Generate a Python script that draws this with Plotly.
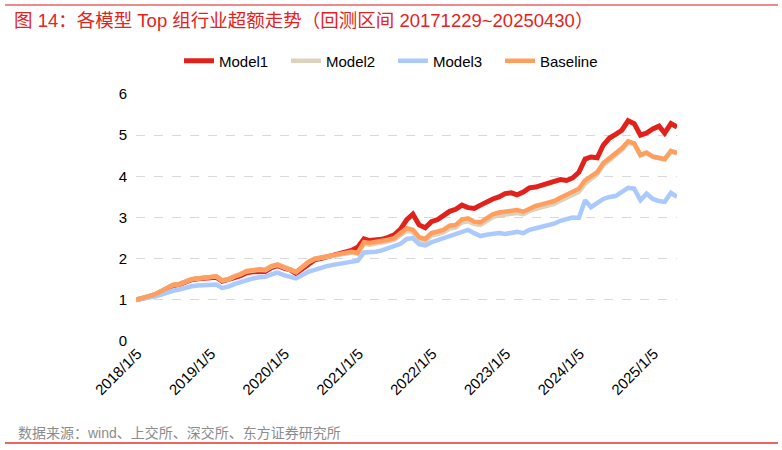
import pandas as pd
import plotly.graph_objects as go

# x: month-end dates from start of backtest
dates = [pd.Timestamp("2017-12-29")] + list(pd.date_range("2018-01-31", "2025-04-30", freq="ME"))

model1 = [1.00, 1.03, 1.07, 1.12, 1.19, 1.27, 1.35, 1.37, 1.44, 1.49, 1.51, 1.52,
          1.53, 1.55, 1.45, 1.48, 1.54, 1.59, 1.66, 1.68, 1.70, 1.69, 1.78, 1.83,
          1.77, 1.73, 1.64, 1.76, 1.88, 1.97, 2.00, 2.04, 2.08, 2.12, 2.16, 2.20,
          2.28, 2.48, 2.44, 2.45, 2.47, 2.52, 2.58, 2.72, 2.95, 3.08, 2.82, 2.75,
          2.90, 2.95, 3.05, 3.15, 3.20, 3.30, 3.24, 3.22, 3.30, 3.38, 3.45, 3.50,
          3.58, 3.60, 3.55, 3.62, 3.72, 3.74, 3.78, 3.82, 3.85, 3.92, 3.90, 3.96,
          4.10, 4.42, 4.47, 4.45, 4.76, 4.93, 5.02, 5.12, 5.35, 5.28, 5.00, 5.05,
          5.15, 5.22, 5.05, 5.28, 5.20]

model2 = [1.00, 1.04, 1.08, 1.13, 1.20, 1.28, 1.36, 1.38, 1.45, 1.50, 1.52, 1.53,
          1.55, 1.57, 1.47, 1.50, 1.57, 1.62, 1.69, 1.71, 1.73, 1.72, 1.81, 1.85,
          1.79, 1.75, 1.67, 1.79, 1.91, 1.99, 2.02, 2.05, 2.08, 2.11, 2.14, 2.15,
          2.12, 2.36, 2.34, 2.36, 2.38, 2.42, 2.46, 2.57, 2.68, 2.64, 2.46, 2.42,
          2.56, 2.60, 2.64, 2.73, 2.76, 2.88, 2.91, 2.84, 2.82, 2.91, 3.01, 3.05,
          3.07, 3.08, 3.11, 3.08, 3.16, 3.21, 3.25, 3.28, 3.33, 3.41, 3.48, 3.55,
          3.62, 3.82, 3.93, 4.05, 4.27, 4.40, 4.50, 4.64, 4.82, 4.78, 4.50, 4.56,
          4.47, 4.44, 4.41, 4.60, 4.56]

model3 = [1.00, 1.02, 1.05, 1.08, 1.12, 1.18, 1.22, 1.25, 1.30, 1.33, 1.35, 1.36,
          1.38, 1.37, 1.29, 1.32, 1.38, 1.43, 1.48, 1.52, 1.55, 1.56, 1.62, 1.66,
          1.60, 1.57, 1.52, 1.60, 1.68, 1.73, 1.78, 1.82, 1.85, 1.87, 1.90, 1.92,
          1.95, 2.15, 2.15, 2.17, 2.20, 2.25, 2.30, 2.36, 2.48, 2.50, 2.35, 2.32,
          2.40, 2.45, 2.50, 2.53, 2.58, 2.65, 2.70, 2.62, 2.55, 2.58, 2.60, 2.62,
          2.60, 2.62, 2.65, 2.62, 2.70, 2.74, 2.77, 2.80, 2.85, 2.92, 2.96, 3.00,
          2.99, 3.42, 3.25, 3.35, 3.45, 3.50, 3.52, 3.62, 3.72, 3.70, 3.42, 3.58,
          3.45, 3.40, 3.38, 3.60, 3.50]

baseline = [1.00, 1.04, 1.08, 1.13, 1.20, 1.28, 1.36, 1.38, 1.45, 1.50, 1.52, 1.53,
            1.55, 1.57, 1.47, 1.50, 1.57, 1.62, 1.70, 1.72, 1.74, 1.73, 1.82, 1.86,
            1.80, 1.76, 1.68, 1.80, 1.92, 2.00, 2.03, 2.07, 2.10, 2.13, 2.16, 2.17,
            2.14, 2.40, 2.38, 2.40, 2.42, 2.46, 2.50, 2.62, 2.74, 2.70, 2.52, 2.48,
            2.62, 2.66, 2.70, 2.80, 2.82, 2.95, 2.98, 2.90, 2.88, 2.98, 3.08, 3.12,
            3.14, 3.15, 3.18, 3.14, 3.22, 3.28, 3.32, 3.35, 3.40, 3.48, 3.55, 3.62,
            3.70, 3.90, 4.00, 4.10, 4.32, 4.45, 4.55, 4.68, 4.85, 4.80, 4.52, 4.58,
            4.48, 4.45, 4.42, 4.62, 4.57]

for s in (model1, model2, model3, baseline):
    assert len(s) == len(dates), (len(s), len(dates))

tick_vals = ["2018-01-05", "2019-01-05", "2020-01-05", "2021-01-05",
             "2022-01-05", "2023-01-05", "2024-01-05", "2025-01-05"]
tick_text = ["2018/1/5", "2019/1/5", "2020/1/5", "2021/1/5",
             "2022/1/5", "2023/1/5", "2024/1/5", "2025/1/5"]

series = [("Model1", model1, "#E3211B", 5),
          ("Model2", model2, "#DDD2BC", 4.5),
          ("Model3", model3, "#A9C9FF", 4.5),
          ("Baseline", baseline, "#FF9F5F", 4.5)]

FONT = "Liberation Sans, Arial, Noto Sans CJK SC, sans-serif"
CJK = "Liberation Sans, Noto Sans CJK SC, sans-serif"

fig = go.Figure()
for name, vals, color, w in series:
    fig.add_trace(go.Scatter(x=dates, y=vals, name=name, mode="lines",
                             line=dict(color=color, width=w)))

L, R, T, B = 136, 105, 94, 109
W, H = 782, 450
pw, ph = W - L - R, H - T - B

def px(x):
    return (x - L) / pw

def py(y):
    return (H - B - y) / ph

fig.update_layout(
    width=W, height=H,
    margin=dict(l=L, r=R, t=T, b=B, autoexpand=False),
    plot_bgcolor="white", paper_bgcolor="white",
    font=dict(family=FONT, size=14, color="#000000"),
    showlegend=True,
    legend=dict(orientation="h", x=px(393), xanchor="center", y=py(61), yanchor="middle",
                font=dict(size=15, color="#000000"), entrywidth=62, entrywidthmode="pixels",
                tracegroupgap=0),
    xaxis=dict(type="date", range=["2017-12-29", "2025-04-30"], automargin=False,
               tickmode="array", tickvals=tick_vals, ticktext=tick_text,
               tickangle=-45, showgrid=False, zeroline=False, showline=False,
               ticks="", tickfont=dict(size=15)),
    yaxis=dict(range=[0, 6], dtick=1, tick0=0, showgrid=True, gridcolor="#D9D9D9",
               griddash="dash", gridwidth=1, zeroline=False, showline=False, automargin=False,
               ticks="", tickfont=dict(size=15), ticklabelstandoff=8),
    shapes=[
        dict(type="line", xref="paper", yref="paper", x0=px(5), x1=px(778),
             y0=py(5), y1=py(5), line=dict(color="#F08A8A", width=2)),
        dict(type="line", xref="paper", yref="paper", x0=px(5), x1=px(778),
             y0=py(443), y1=py(443), line=dict(color="#E8302A", width=1.5)),
    ],
    annotations=[
        dict(text="图 14：各模型 Top 组行业超额走势（回测区间 20171229~20250430）",
             xref="paper", yref="paper", x=px(12), y=py(20), xanchor="left", yanchor="middle",
             showarrow=False, font=dict(family=CJK, size=18.5, color="#E3231D")),
        dict(text="数据来源：wind、上交所、深交所、东方证券研究所",
             xref="paper", yref="paper", x=px(16), y=py(433), xanchor="left", yanchor="middle",
             showarrow=False, font=dict(family=CJK, size=14, color="#8C8C8C")),
    ],
)

fig.write_html("out.html", config={"displayModeBar": False},
               post_script="document.body.style.margin='0';document.body.style.padding='0';")
